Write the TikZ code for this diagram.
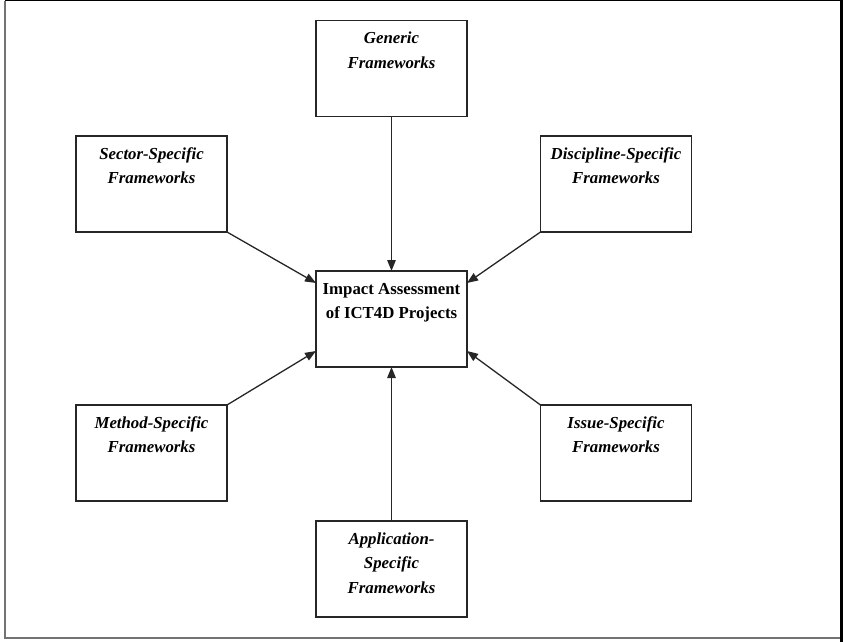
\documentclass[tikz,border=0pt]{standalone}
\usepackage{fontspec}
\setmainfont{Liberation Serif}
\usetikzlibrary{arrows.meta}

% box with its text set from the top edge
\newcommand{\boxtext}[2][\itshape]{%
  \parbox[c][96pt][t]{151pt}{\centering\fontsize{16.8}{24.5}\selectfont\bfseries#1%
    \rule{0pt}{23pt}#2}}

\begin{document}
\begin{tikzpicture}[x=1pt,y=-1pt,
  fw/.style={draw=black!85, line width=1.7pt, inner sep=0pt, outer sep=0pt,
    minimum width=151pt, minimum height=96pt},
  link/.style={draw=black!85, line width=1.3pt,
    -{Triangle[length=11pt,width=8.5pt]}}]
  \useasboundingbox (0,0) rectangle (843,642);

  % page frame
  \draw[gray!90!black, line width=1.8pt] (5,1) -- (5,637.8) -- (841,637.8);
  \draw[black, line width=1.2pt] (5,0.6) -- (843,0.6);
  \draw[black, line width=3pt] (841.5,0) -- (841.5,642);

  % centre and surrounding frameworks
  \node[fw] (ctr) at (391.5,319) {\boxtext[\upshape]{Impact Assessment\\of ICT4D Projects}};
  \node[fw] (gen) at (391.5,68.5) {\boxtext{Generic\\Frameworks}};
  \node[fw] (sec) at (151.5,184) {\boxtext{Sector-Specific\\Frameworks}};
  \node[fw] (dis) at (616,184) {\boxtext{Discipline-Specific\\Frameworks}};
  \node[fw] (met) at (151.5,453) {\boxtext{Method-Specific\\Frameworks}};
  \node[fw] (iss) at (616,453) {\boxtext{Issue-Specific\\Frameworks}};
  \node[fw] (app) at (391.5,569) {\boxtext{Application-\\Specific\\Frameworks}};

  % connectors into the centre
  \draw[link] (gen.south) -- (ctr.north);
  \draw[link] (app.north) -- (ctr.south);
  \draw[link] (sec.south east) -- ([yshift=-12pt]ctr.north west);
  \draw[link] (dis.south west) -- ([yshift=-12pt]ctr.north east);
  \draw[link] (met.north east) -- ([yshift=16pt]ctr.south west);
  \draw[link] (iss.north west) -- ([yshift=16pt]ctr.south east);
\end{tikzpicture}
\end{document}
